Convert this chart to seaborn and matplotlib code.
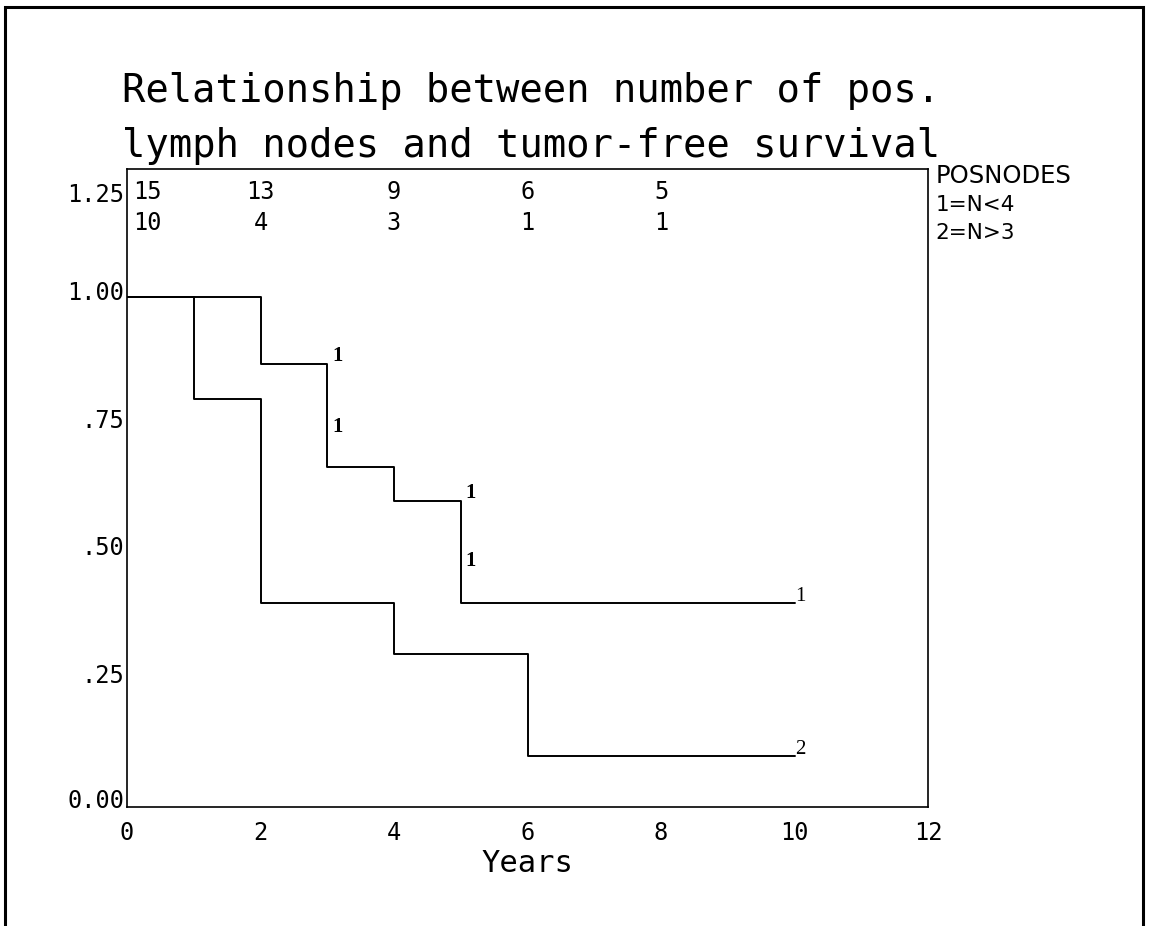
import matplotlib
matplotlib.use("Agg")
import numpy as np
import pandas as pd
import seaborn as sns
import matplotlib.pyplot as plt
from matplotlib.patches import Rectangle
from matplotlib.transforms import ScaledTranslation

# ---------------- data ----------------
title_lines = ["Relationship between number of pos.",
               "lymph nodes and tumor-free survival"]
group_names = ["1", "2"]
legend_title = "POSNODES"
legend_labels = ["1=N<4", "2=N>3"]

g1_years = [0, 2, 3, 4, 5, 10]
g1_surv = [1.0, 0.867, 0.667, 0.6, 0.4, 0.4]
g2_years = [0, 1, 2, 4, 6, 10]
g2_surv = [1.0, 0.8, 0.4, 0.3, 0.1, 0.1]

risk_times = [0, 2, 4, 6, 8]
g1_at_risk = [15, 13, 9, 6, 5]
g2_at_risk = [10, 4, 3, 1, 1]

censor_years = [3, 3, 5, 5]
censor_surv = [0.867, 0.748, 0.6, 0.485]

x_ticks = [0, 2, 4, 6, 8, 10, 12]
y_ticks = [0.0, 0.25, 0.5, 0.75, 1.0, 1.25]
y_tick_labels = ["0.00", ".25", ".50", ".75", "1.00", "1.25"]

df = pd.DataFrame({
    "Years": g1_years + g2_years,
    "Survival": g1_surv + g2_surv,
    "POSNODES": [group_names[0]] * len(g1_years) + [group_names[1]] * len(g2_years),
})

# ---------------- style ----------------
sns.set_theme(style="white")
plt.rcParams["font.family"] = ["DejaVu Sans Mono", "DejaVu Sans"]

W, H = 1150, 926
fig = plt.figure(figsize=(W / 100, H / 100), dpi=100)
fig.patch.set_facecolor("white")
ax = fig.add_axes([127 / W, 1 - 807 / H, 801 / W, 638 / H])

sns.lineplot(data=df, x="Years", y="Survival", hue="POSNODES",
             palette={"1": "black", "2": "black"}, drawstyle="steps-post",
             estimator=None, sort=True, legend=False, linewidth=1.4, ax=ax)

ax.set_xlim(0, 12)
ax.set_ylim(0, 1.25)
for s in ax.spines.values():
    s.set_color("black")
    s.set_linewidth(1.2)

ax.set_xticks(x_ticks)
ax.set_xticklabels([str(t) for t in x_ticks])
ax.set_yticks(y_ticks)
ax.set_yticklabels(y_tick_labels)
ax.tick_params(axis="both", length=0, labelsize=17, colors="black")
ax.tick_params(axis="x", pad=10)
ax.tick_params(axis="y", pad=2)

# y tick label vertical offsets (as in the reference)
for lab, val in zip(ax.get_yticklabels(), y_ticks):
    if val == 1.25:
        dy = -23
    elif val == 0.0:
        dy = 9
    else:
        dy = 6
    lab.set_transform(lab.get_transform() + ScaledTranslation(0, dy / 100, fig.dpi_scale_trans))

ax.set_xlabel("Years", fontsize=22, color="black", labelpad=3)
ax.set_ylabel("")

# numbers at risk
for t, n1, n2 in zip(risk_times, g1_at_risk, g2_at_risk):
    ha = "left" if t == 0 else "center"
    off = ScaledTranslation(6 / 100 if t == 0 else 0, 0, fig.dpi_scale_trans)
    ax.text(t, 1.205, str(n1), ha=ha, va="center", fontsize=17, color="black",
            transform=ax.transData + off)
    ax.text(t, 1.144, str(n2), ha=ha, va="center", fontsize=17, color="black",
            transform=ax.transData + off)

# censoring symbols
serif = ["Liberation Serif", "DejaVu Serif"]
for cx, cy in zip(censor_years, censor_surv):
    off = ScaledTranslation(5 / 100, -2 / 100, fig.dpi_scale_trans)
    ax.text(cx, cy, group_names[0], ha="left", va="bottom" if cy in (0.867, 0.6) else "center",
            fontsize=15, family=serif, fontweight="bold", color="black",
            transform=ax.transData + off)

# curve end labels
for yrs, sv, nm in [(g1_years, g1_surv, group_names[0]), (g2_years, g2_surv, group_names[1])]:
    off = ScaledTranslation(1 / 100, -3 / 100, fig.dpi_scale_trans)
    ax.text(yrs[-1], sv[-1], nm, ha="left", va="bottom", fontsize=15, family=serif,
            color="black", transform=ax.transData + off)

# legend text (right of the frame)
sans = ["DejaVu Sans"]
ax.text(1.009, 0.989, legend_title, transform=ax.transAxes, ha="left", va="center",
        fontsize=17.5, family=sans, color="black")
for i, lbl in enumerate(legend_labels):
    ax.text(1.009, 0.944 - 0.044 * i, lbl, transform=ax.transAxes, ha="left", va="center",
            fontsize=15.5, family=sans, color="black")

# title
fig.text(122 / W, 1 - 91 / H, title_lines[0], ha="left", va="center", fontsize=28, color="black")
fig.text(122 / W, 1 - 146 / H, title_lines[1], ha="left", va="center", fontsize=28, color="black")

# outer border
fig.patches.append(Rectangle((5 / W, -0.05), (1143 - 5) / W, 1.05 - 7 / H,
                             transform=fig.transFigure, fill=False, edgecolor="black",
                             linewidth=2.2))

fig.savefig("out.png", dpi=100, facecolor="white")
